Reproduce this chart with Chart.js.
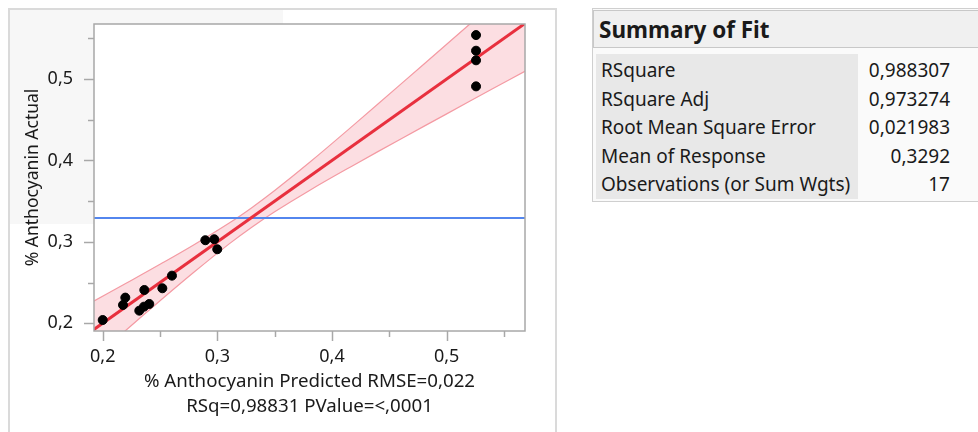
<!DOCTYPE html>
<html>
<head>
<meta charset="utf-8">
<script src="https://cdn.jsdelivr.net/npm/chart.js@4.4.1/dist/chart.umd.min.js"></script>
<style>
  body { margin: 0; background: #fff; font-family: "Noto Sans", sans-serif; color: #1a1a1a; }
  #panel { position: absolute; left: 8px; top: 8px; width: 545px; height: 440px; border: 2px solid #dadada; }
  #shade { position: absolute; left: 10px; top: 10px; width: 273px; height: 214px; background: #f7f7f7; }
  #c { position: absolute; left: 0; top: 0; }
  #sum { position: absolute; left: 592px; top: 8px; width: 400px; height: 192px; border: 1px solid #cfcfcf; background: #fafafa; }
  #sum .hdr { position: absolute; left: 0; top: 1px; width: 398px; height: 38px; background: #f0f0f0; border: 1px solid #c8c8c8;
              font-weight: bold; font-size: 22.5px; line-height: 37px; padding-left: 5px; box-sizing: border-box; }
  #sum .lab { position: absolute; left: 3px; top: 45px; width: 262px; height: 145px; background: #e8e8e8; }
  .row { position: absolute; font-size: 19px; line-height: 28px; white-space: nowrap; }
</style>
</head>
<body>
<div id="panel"></div>
<div id="shade"></div>
<canvas id="c" width="560" height="432"></canvas>
<div id="sum"><div class="hdr">Summary of Fit</div><div class="lab"></div></div>
<script>
// scatter points (predicted, actual)
const predicted = [0.200, 0.2177, 0.2197, 0.2363, 0.2319, 0.2360, 0.2406, 0.2520, 0.2604,
                   0.2895, 0.2973, 0.2999, 0.5256, 0.5256, 0.5256, 0.5256];
const actual    = [0.204, 0.2225, 0.2315, 0.2409, 0.2155, 0.2204, 0.2237, 0.2430, 0.2585,
                   0.3020, 0.3032, 0.2909, 0.5540, 0.5348, 0.5230, 0.4910];

// fit line and mean line
const fitX = [0.19, 0.57];
const fitY = [0.19, 0.57];
const meanY = 0.3292;

// confidence band
const bandX     = [0.19, 0.22, 0.25, 0.28, 0.31, 0.33, 0.35, 0.38, 0.42, 0.46, 0.50, 0.54, 0.57];
const bandUpper = [0.2255, 0.2488, 0.2724, 0.2968, 0.3228, 0.342, 0.363, 0.3971, 0.4449, 0.4937, 0.5428, 0.5920, 0.6291];
const bandLower = [0.1546, 0.1912, 0.2276, 0.2632, 0.2972, 0.318, 0.337, 0.3629, 0.3951, 0.4264, 0.4572, 0.4880, 0.5109];

const xMajor = [0.2, 0.3, 0.4, 0.5];
const xMinor = [0.25, 0.35, 0.45, 0.55];
const yMajor = [0.2, 0.3, 0.4, 0.5];
const yMinor = [0.25, 0.35, 0.45, 0.55];

const fitLabels = ["RSquare", "RSquare Adj", "Root Mean Square Error", "Mean of Response", "Observations (or Sum Wgts)"];
const fitValues = ["0,988307", "0,973274", "0,021983", "0,3292", "17"];

const sum = document.getElementById("sum");
fitLabels.forEach((lab, i) => {
  const top = 47 + i * 28.5;
  const l = document.createElement("div");
  l.className = "row"; l.style.left = "8px"; l.style.top = top + "px"; l.textContent = lab;
  const v = document.createElement("div");
  v.className = "row"; v.style.right = "43px"; v.style.top = top + "px"; v.textContent = fitValues[i];
  sum.appendChild(l); sum.appendChild(v);
});

const pts = (xs, ys) => xs.map((x, i) => ({ x, y: ys[i] }));
const comma = v => String(Math.round(v * 10) / 10).replace(".", ",");

const frame = {
  id: "frame",
  beforeDraw(chart) {
    const { ctx, chartArea: a } = chart;
    ctx.save();
    ctx.fillStyle = "#fff";
    ctx.fillRect(a.left, a.top, a.width, a.height);
    ctx.restore();
  },
  afterDraw(chart) {
    const { ctx, chartArea: a, scales: { x, y } } = chart;
    ctx.save();
    ctx.strokeStyle = "#a8a8a8";
    ctx.lineWidth = 1.5;
    ctx.strokeRect(a.left, a.top, a.width, a.height);
    const tick = (x1, y1, x2, y2) => { ctx.beginPath(); ctx.moveTo(x1, y1); ctx.lineTo(x2, y2); ctx.stroke(); };
    xMajor.forEach(v => { const p = Math.round(x.getPixelForValue(v)) + 0.5; tick(p, a.bottom, p, a.bottom + 10); });
    xMinor.forEach(v => { const p = Math.round(x.getPixelForValue(v)) + 0.5; tick(p, a.bottom, p, a.bottom + 6); });
    yMajor.forEach(v => { const p = Math.round(y.getPixelForValue(v)) + 0.5; tick(a.left, p, a.left - 10, p); });
    yMinor.forEach(v => { const p = Math.round(y.getPixelForValue(v)) + 0.5; tick(a.left, p, a.left - 6, p); });
    ctx.restore();
  }
};

new Chart(document.getElementById("c"), {
  type: "scatter",
  data: {
    datasets: [
      { data: pts(predicted, actual), backgroundColor: "#000", borderColor: "#000", pointRadius: 4.5, pointHoverRadius: 4.5 },
      { data: pts(fitX, fitY), showLine: true, borderColor: "#e8303e", borderWidth: 3, pointRadius: 0 },
      { data: [{ x: 0.19, y: meanY }, { x: 0.57, y: meanY }], showLine: true, borderColor: "#5386ee", borderWidth: 2, pointRadius: 0 },
      { data: pts(bandX, bandUpper), showLine: true, borderColor: "#f49aa3", borderWidth: 1.2, pointRadius: 0, tension: 0.4, fill: false },
      { data: pts(bandX, bandLower), showLine: true, borderColor: "#f49aa3", borderWidth: 1.2, pointRadius: 0, tension: 0.4,
        fill: { target: 3 }, backgroundColor: "rgba(250, 190, 198, 0.5)" }
    ]
  },
  options: {
    responsive: false,
    animation: false,
    layout: { padding: { left: 0, top: 24, right: 35, bottom: 0 } },
    plugins: { legend: { display: false }, tooltip: { enabled: false } },
    scales: {
      x: {
        type: "linear", min: 0.1924, max: 0.5683,
        afterFit: s => { s.height = 101; s.paddingLeft = 0; s.paddingRight = 0; },
        afterBuildTicks: s => { s.ticks = xMajor.map(v => ({ value: v })); },
        grid: { display: false, drawTicks: false },
        border: { display: false },
        ticks: { padding: 15, color: "#1a1a1a", font: { family: "Noto Sans", size: 18 }, callback: comma },
        title: {
          display: true,
          text: ["% Anthocyanin Predicted RMSE=0,022", "RSq=0,98831 PValue=<,0001"],
          color: "#1a1a1a", font: { family: "Noto Sans", size: 18.7, lineHeight: 1.33 }, padding: { top: 0, bottom: 13 }
        }
      },
      y: {
        type: "linear", min: 0.1905, max: 0.5676,
        afterFit: s => { s.width = 94; s.paddingTop = 0; s.paddingBottom = 0; },
        afterBuildTicks: s => { s.ticks = yMajor.map(v => ({ value: v })); },
        grid: { display: false, drawTicks: false },
        border: { display: false },
        ticks: { padding: 21, color: "#1a1a1a", font: { family: "Noto Sans", size: 18 }, callback: comma },
        title: {
          display: true, text: "% Anthocyanin Actual",
          color: "#1a1a1a", font: { family: "Noto Sans", size: 17.5, lineHeight: 1.2 }, padding: { top: 23, bottom: 0 }
        }
      }
    }
  },
  plugins: [frame]
});
</script>
</body>
</html>
